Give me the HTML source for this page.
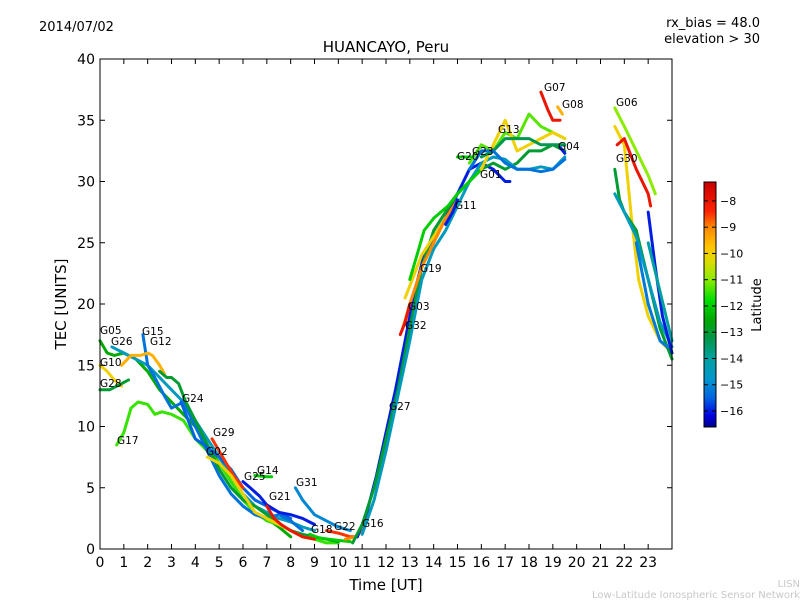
<!DOCTYPE html>
<html><head><meta charset="utf-8"><style>
body{margin:0;background:#fff;}
svg{display:block;font-family:"DejaVu Sans","Liberation Sans",sans-serif;}
</style></head><body>
<svg id="chart" width="800" height="600" xmlns="http://www.w3.org/2000/svg">
<rect width="800" height="600" fill="#fff"/>
<text x="39" y="31" font-size="13">2014/07/02</text>
<text x="760" y="27" font-size="13" text-anchor="end">rx_bias = 48.0</text>
<text x="760" y="43" font-size="13" text-anchor="end">elevation &gt; 30</text>
<text x="386" y="52" font-size="15" text-anchor="middle">HUANCAYO, Peru</text>
<g id="plot"></g>
<g id="labels" font-size="10.5"></g>
<rect x="100" y="59" width="572" height="490" fill="none" stroke="#000" stroke-width="1"/>
<g id="axes"></g>
<text x="386" y="590" font-size="15" text-anchor="middle">Time [UT]</text>
<text transform="translate(66,304) rotate(-90)" font-size="15" text-anchor="middle">TEC [UNITS]</text>
<defs><linearGradient id="cmap" x1="0" y1="1" x2="0" y2="0"></linearGradient></defs>
<rect x="704" y="182" width="12" height="245" fill="url(#cmap)" stroke="#000" stroke-width="1"/>
<g id="cbar" font-size="11"></g>
<text transform="translate(761,305) rotate(-90)" font-size="13" text-anchor="middle">Latitude</text>
<text x="800" y="587" font-size="10" fill="#c8c8c8" text-anchor="end">LISN</text>
<text x="800" y="598" font-size="10" fill="#c8c8c8" text-anchor="end">Low-Latitude Ionospheric Sensor Network</text>
</svg>
<script>
const xTicks=[0,1,2,3,4,5,6,7,8,9,10,11,12,13,14,15,16,17,18,19,20,21,22,23];
const yTicks=[0,5,10,15,20,25,30,35,40];
const cbTicks=[-8,-9,-10,-11,-12,-13,-14,-15,-16];
const trackLat=[-12.5,-14.5,-10,-13,-11.5,-15.3,-9.5,-13,-15.5,-8.5,-10,-16,-12,-8,-15,-12,-8.5,-9,-16,-13,-14.5,-10,-9,-8,-12,-11.3,-10,-8,-9.5,-16,-12,-13.3,-15.3,-16,-11,-10,-8,-13,-14.5,-16,-15.2,-14];
const trackT=[
[0,0.3,0.6,1.0,1.5,2.0,2.5,3.0,3.5,4.0,4.5,5,5.5,6,6.5,7,7.5,8],
[0.5,1,1.5,2,2.5,3,3.5,4,4.5,5,5.5,6,6.5,7,7.5,8,8.5,9],
[0,0.3,0.6,0.9],
[0,0.4,0.8,1.2],
[0.7,1,1.3,1.6,2,2.3,2.6,3,3.5,4,4.5,5,5.5,6,6.5,7,7.5,8,8.5,9,9.5,10],
[1.8,2,2.3,2.7,3,3.5,4,4.5,5,5.5,6,6.5,7,7.5,8,8.5],
[0.9,1.3,1.7,2,2.2,2.5,2.7],
[2.5,2.8,3,3.3,3.6,4,4.5,5,5.5,6,6.5,7,7.5,8,8.5,9,9.5,10],
[3.4,3.7,4,4.5,5,5.5,6,6.5,7,7.5,8],
[4.7,5,5.3,5.6,6],
[4.5,5,5.5,6,6.5,7,7.5,8,8.5,9],
[6,6.3,6.7,7,7.5,8,8.5,9],
[6.5,7,7.2],
[7,7.3,7.6,8,8.5,9],
[8.2,8.5,9,9.5,10,10.5],
[8.8,9.2,9.6,10,10.5],
[9.5,10,10.5,10.8],
[10.3,10.7,11,11.2],
[10.8,11.2,11.6,12,12.4,12.8,13.2,13.6,14,14.5,15,15.5,16,16.5,17,17.2],
[10.6,11,11.5,12,12.5,13,13.5,14,14.5,15,15.5,16,16.5,17,17.5,18,18.5,19,19.5],
[11,11.5,12,12.5,13,13.5,14,14.5,15,15.5,16,16.5,17,17.5,18,18.5,19,19.5],
[12.8,13.2,13.5,14,14.5],
[12.7,13,13.5,14,14.5,15],
[12.6,12.8,13],
[13,13.3,13.6,14,14.3,14.6,15,15.5,16],
[15.5,16,16.5,17,17.5,18,18.5,19,19.5],
[16,16.5,17,17.5,18,18.5,19,19.5],
[18.5,18.8,19,19.3],
[19.2,19.4],
[19.3,19.5],
[15,15.3,15.6],
[16,16.5,17,17.5,18,18.5,19,19.5],
[15.5,16,16.5,17,17.5,18,18.5,19,19.5],
[14.5,14.8,15],
[21.6,22,22.5,23,23.3],
[21.6,22,22.3,22.6,23,23.5,24],
[21.7,22,22.5,23,23.1],
[21.6,21.8,22,22.5,23,23.5,24],
[21.6,22,22.5,23,23.5,24],
[23,23.3,23.6,24],
[22.5,23,23.5,23.8],
[23,23.5,24]];
const trackV=[
[17,16,15.8,16,15.5,14.5,13,12,11,10,8.5,7,5.5,4,3,2.5,1.8,1],
[16.5,16,15.5,15,14,13,12,10.5,9,7.5,6,4.5,3.5,3,2.5,2.2,1.8,1.5],
[15,14.5,13.8,13.3],
[13,13,13.4,13.8],
[8.5,9.5,11.5,12,11.8,11,11.2,11,10.5,9,8,7,5.5,4,3,2.3,2.0,1.5,1,0.8,0.5,0.5],
[17.5,15,14,12.5,11.5,12,10,8,6,4.5,3.5,2.8,2.5,2.8,2.3,1.5],
[15,15.8,15.8,16,15.8,15,14.3],
[14.5,14,14,13.5,12,10.5,8.5,6.5,5,4,3.5,2.8,2,1.5,1.2,1,0.8,0.6],
[12,10.5,9,8.3,7.5,6.5,5,4,3.5,3,2.5],
[9,8,7,6,5],
[7.5,7,6,4.5,3,2.5,2,1.5,1,0.8],
[5.5,5,4.3,3.6,3,2.8,2.5,2],
[6,5.9,5.9],
[3.5,2.5,2,1.5,1,0.8],
[5,4,2.8,2.3,1.8,1.5],
[1.2,0.9,0.8,0.7,0.6],
[1.5,1.3,1.0,1.0],
[0.8,1,1.5,2.5],
[1,3,6,9.5,13,17,21,24,25.5,27,29,31,31.5,31,30,30],
[0.5,2,5,9,13,18,23,26,27.5,29,30,31,31.5,31,31.5,32.5,32.5,33,32.5],
[1.2,4,8,12.5,17,22,24.5,26,28,30,31.5,32,31.8,31,31,31.2,31,32],
[20.5,22.5,24,25.5,27],
[18,20,23,25,27,28.5],
[17.5,18.5,20],
[22,24,26,27,27.5,28,29,30,31],
[31.5,33,32.5,34,33.5,35.5,34.5,34,33.5],
[31,33,35,32.5,33,33.5,34,33.5],
[37.3,35.8,35,35],
[36.1,35.5],
[32.8,32.3],
[32,32,32],
[32,32.5,33.5,33.5,33.5,33,33,33],
[31,32.5,32.5,31.5,31,31,30.8,31,31.8],
[26.5,27.5,28.5],
[36,34.5,32.5,30.5,29],
[34.5,33,27,22,19,17,16],
[33,33.5,31,29,28],
[31,28.5,27.5,26,22,18,15.5],
[29,27.5,25.5,22,18.5,16.5],
[27.5,23,19,16],
[25,20,17,16.5],
[25,21,17]];
const satNames=["G05","G26","G10","G28","G17","G15","G12","G24","G29","G02","G25","G14","G21","G31","G18","G22","G16","G27","G32","G03","G19","G11","G01","G20","G23","G13","G07","G08","G04","G06","G30"];
const satLabelX=[100,111,100,100,117,142,150,182,213,206,244,257,269,296,311,334,362,389,405,408,420,455,480,457,472,498,544,562,558,616,616];
const satLabelY=[334,345,366,387,444,335,345,402,436,455,480,474,500,486,533,530,527,410,329,310,272,209,178,160,155,133,91,108,150,106,162];

const NS="http://www.w3.org/2000/svg";
const x0=100,x1=672,y0=549,y1=59;
const xs=t=>x0+t*(x1-x0)/24;
const ys=v=>y0-v*(y0-y1)/40;
const latMin=-16.61,latMax=-7.28;
const cmStops=[[-16.61,[0,0,140]],[-16.2,[0,0,225]],[-15.5,[0,100,225]],[-14.8,[0,150,205]],[-14,[0,160,160]],[-13.2,[0,150,70]],[-12.5,[0,170,0]],[-11.8,[0,220,0]],[-11,[140,235,0]],[-10.3,[220,220,0]],[-9.8,[255,200,0]],[-9,[255,136,0]],[-8.4,[255,34,0]],[-7.28,[200,0,0]]];
function cmap(l){
  l=Math.max(latMin,Math.min(latMax,l));
  for(let i=0;i<cmStops.length-1;i++){const a=cmStops[i],b=cmStops[i+1];
    if(l<=b[0]){const f=(l-a[0])/(b[0]-a[0]);const c=a[1].map((v,k)=>Math.round(v+(b[1][k]-v)*f));return `rgb(${c})`;}}
  return 'rgb(200,0,0)';
}
const grad=document.getElementById('cmap');
cmStops.forEach(s=>{const st=document.createElementNS(NS,'stop');st.setAttribute('offset',((s[0]-latMin)/(latMax-latMin)).toFixed(3));st.setAttribute('stop-color',`rgb(${s[1]})`);grad.appendChild(st);});
const plot=document.getElementById('plot');
trackT.forEach((ts,i)=>{
  const p=document.createElementNS(NS,'polyline');
  p.setAttribute('points',ts.map((t,j)=>xs(t).toFixed(1)+','+ys(trackV[i][j]).toFixed(1)).join(' '));
  p.setAttribute('fill','none');p.setAttribute('stroke',cmap(trackLat[i]));
  p.setAttribute('stroke-width','3');p.setAttribute('stroke-linejoin','round');p.setAttribute('stroke-linecap','round');
  
  
  plot.appendChild(p);
});
const lab=document.getElementById('labels');
satNames.forEach((n,i)=>{
  const t=document.createElementNS(NS,'text');
  t.setAttribute('x',satLabelX[i]);t.setAttribute('y',satLabelY[i]);t.textContent=n;
  
  
  lab.appendChild(t);
});
const ax=document.getElementById('axes');
function line(a,b,c,d,g){const l=document.createElementNS(NS,'line');l.setAttribute('x1',a);l.setAttribute('y1',b);l.setAttribute('x2',c);l.setAttribute('y2',d);l.setAttribute('stroke','#000');l.setAttribute('stroke-width','1');g.appendChild(l);return l;}
function txt(x,y,s,anchor,size,g){const t=document.createElementNS(NS,'text');t.setAttribute('x',x);t.setAttribute('y',y);t.setAttribute('text-anchor',anchor);t.setAttribute('font-size',size);t.textContent=s;g.appendChild(t);return t;}
xTicks.forEach(v=>{const x=xs(v);
  const a=line(x,y0,x,y0-5,ax);
  const b=line(x,y1,x,y1+5,ax);
  const t=txt(x,y0+18,String(v),'middle',14,ax);});
yTicks.forEach(v=>{const y=ys(v);
  const a=line(x0,y,x0+5,y,ax);
  const b=line(x1,y,x1-5,y,ax);
  const t=txt(x0-5,y+5,String(v),'end',14,ax);});
const cb=document.getElementById('cbar');
cbTicks.forEach(v=>{const y=182+(latMax-v)/(latMax-latMin)*245;
  const a=line(716,y,712,y,cb);
  const b=line(704,y,708,y,cb);
  const t=txt(720,y+4,'\u2212'+Math.abs(v),'start',11,cb);});
</script>
</body></html>
